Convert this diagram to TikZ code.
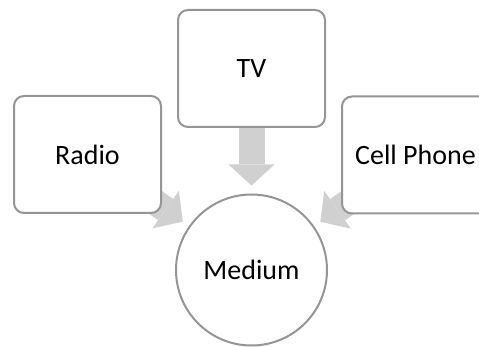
\documentclass[tikz,border=0pt]{standalone}
\usepackage{fontspec}
\setmainfont{Carlito}
\usetikzlibrary{arrows.meta,backgrounds}
\definecolor{boxgray}{HTML}{959595}
\definecolor{arrowgray}{HTML}{D0D0D0}
\begin{document}
\begin{tikzpicture}[x=1pt,y=-1pt,
  box/.style={draw=boxgray, line width=2pt, rounded corners=10pt, fill=white,
    minimum width=147pt, minimum height=117pt, inner sep=0pt, outer sep=0pt,
    font=\fontsize{28}{32}\selectfont},
  hub/.style={circle, draw=boxgray, line width=2pt, fill=white,
    minimum size=151pt, inner sep=0pt, outer sep=0pt,
    font=\fontsize{28}{32}\selectfont},
  flow/.style={draw=arrowgray, line width=26pt,
    -{Triangle[length=21pt,width=46pt,line width=0pt]}}]
\useasboundingbox (0,0) rectangle (479,347);
\clip (0,0) rectangle (479,347);
\node[box] (tv) at (251.5,68.5) {TV};
\node[box] (radio) at (87.5,154.5) {Radio};
\node[box] (cell) at (415.5,155) {Cell Phone};
\node[hub] (medium) at (251.5,270) {Medium};
\begin{scope}[on background layer]
  \draw[flow, shorten >=9pt] (tv.south) -- (medium.north);
  \draw[flow, shorten >=84pt] (radio.center) -- (medium.center);
  \draw[flow, shorten >=84pt] (cell.center) -- (medium.center);
\end{scope}
\end{tikzpicture}
\end{document}
